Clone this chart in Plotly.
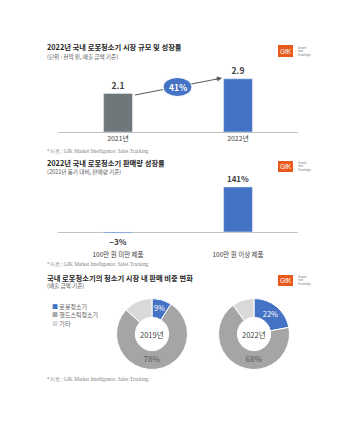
import plotly.graph_objects as go

# The page body has an 8px default margin, so the figure is drawn 8px in
# from the top-left corner; coordinates below are in page pixels.
OFF = 8
W, H = 359 - OFF, 427 - OFF


def px(x):
    return (x - OFF) / W


def py(y):
    return 1 - (y - OFF) / H


# ---------------- data ----------------
market_years = ["2021년", "2022년"]
market_values = [2.1, 2.9]
market_growth = "41%"

growth_categories = ["100만 원 미만 제품", "100만 원 이상 제품"]
growth_values = [-3, 141]

share_labels = ["로봇청소기", "핸드스틱청소기", "기타"]
share_2019 = [9, 78, 13]
share_2022 = [22, 68, 10]
share_years = ["2019년", "2022년"]

titles = [
    "2022년 국내 로봇청소기 시장 규모 및 성장률",
    "2022년 국내 로봇청소기 판매량 성장률",
    "국내 로봇청소기의 청소기 시장 내 판매 비중 변화",
]
subtitles = [
    "(단위 : 천억 원, 매출 금액 기준)",
    "(2021년 동기 대비, 판매량 기준)",
    "(매출 금액 기준)",
]
source_note = "*자료 : GfK Market Intelligence: Sales Tracking"

# ---------------- styles ----------------
FONT = "Noto Sans CJK KR"
BLUE = "#4472C4"
SLATE = "#6F777B"
GRAY = "#A5A5A5"
LIGHT = "#D9D9D9"
TXT = "#404040"
GFK = "#E8591C"

fig = go.Figure()

# Chart 1: market size
fig.add_trace(go.Bar(
    x=market_years, y=market_values,
    marker=dict(color=[SLATE, BLUE]), width=0.24,
    texttemplate="%{y}", textposition="outside", cliponaxis=False,
    textfont=dict(family=FONT, size=8.5, color=TXT, weight="bold"),
    xaxis="x", yaxis="y", showlegend=False, hoverinfo="skip",
))

# Chart 2: unit growth
fig.add_trace(go.Bar(
    x=growth_categories, y=growth_values,
    marker=dict(color=BLUE), width=0.24,
    texttemplate="%{y}%", textposition="outside", cliponaxis=False,
    textfont=dict(family=FONT, size=8, color=TXT, weight="bold"),
    xaxis="x2", yaxis="y2", showlegend=False, hoverinfo="skip",
))

# Chart 3: donuts
share_colors = [BLUE, GRAY, LIGHT]
centers = [152, 254]
CY = 334
R = 35.5
for vals, cx in zip([share_2019, share_2022], centers):
    fig.add_trace(go.Pie(
        labels=share_labels, values=vals, sort=False,
        direction="clockwise", rotation=0, hole=0.47,
        marker=dict(colors=share_colors, line=dict(color="white", width=1)),
        text=[f"{vals[0]}%", f"{vals[1]}%", ""],
        textinfo="text", textposition="inside",
        insidetextorientation="horizontal",
        insidetextfont=dict(family=FONT, size=8, color=["white", "#595959", TXT]),
        domain=dict(x=[px(cx - R), px(cx + R)], y=[py(CY + R), py(CY - R)]),
        showlegend=False, hoverinfo="skip",
    ))

annotations = []
shapes = []

# titles / subtitles / footnotes / logos
title_y = [47, 163, 278]
sub_y = [57.5, 172, 286]
foot_y = [151, 264, 379]
logo_y = [(45, 57), (161, 172), (275, 286)]
for t, s, ty, sy, fy, (l0, l1) in zip(titles, subtitles, title_y, sub_y, foot_y, logo_y):
    annotations.append(dict(
        text=f"<b>{t}</b>", x=px(45), y=py(ty), xref="paper", yref="paper",
        xanchor="left", yanchor="middle", showarrow=False,
        font=dict(family=FONT, size=7.3, color="#1F1F1F")))
    annotations.append(dict(
        text=s, x=px(45), y=py(sy), xref="paper", yref="paper",
        xanchor="left", yanchor="middle", showarrow=False,
        font=dict(family=FONT, size=5.6, color="#595959")))
    annotations.append(dict(
        text=source_note, x=px(45), y=py(fy), xref="paper", yref="paper",
        xanchor="left", yanchor="middle", showarrow=False,
        font=dict(family="Liberation Serif", size=5.2, color="#7F7F7F")))
    shapes.append(dict(type="rect", xref="paper", yref="paper",
                       x0=px(278), x1=px(293), y0=py(l1), y1=py(l0),
                       fillcolor=GFK, line=dict(width=0)))
    annotations.append(dict(
        text="GfK", x=px(285.5), y=py((l0 + l1) / 2), xref="paper", yref="paper",
        xanchor="center", yanchor="middle", showarrow=False,
        font=dict(family="Liberation Sans", size=6.5, color="white")))
    annotations.append(dict(
        text="Growth<br>from<br>Knowledge", x=px(296), y=py((l0 + l1) / 2),
        xref="paper", yref="paper", xanchor="left", yanchor="middle",
        showarrow=False, align="left",
        font=dict(family="Liberation Sans", size=2.6, color="#808080")))

# growth arrow and ellipse (chart 1)
shapes.append(dict(type="line", xref="paper", yref="paper",
                   x0=px(135), y0=py(95), x1=px(217), y1=py(79),
                   line=dict(color="#595959", width=1), layer="above"))
annotations.append(dict(
    text="", x=px(222), y=py(78), xref="paper", yref="paper",
    ax=-8, ay=1.6, axref="pixel", ayref="pixel",
    showarrow=True, arrowhead=2, arrowsize=1, arrowwidth=1,
    arrowcolor="#595959"))
shapes.append(dict(type="circle", xref="paper", yref="paper",
                   x0=px(163), x1=px(192), y0=py(96.5), y1=py(77.5),
                   fillcolor=BLUE, line=dict(color="white", width=1), layer="above"))
annotations.append(dict(
    text=f"<b>{market_growth}</b>", x=px(177.5), y=py(87), xref="paper", yref="paper",
    xanchor="center", yanchor="middle", showarrow=False,
    font=dict(family=FONT, size=8.5, color="white")))

# donut centre labels
for yr, cx in zip(share_years, centers):
    annotations.append(dict(
        text=yr, x=px(cx), y=py(CY), xref="paper", yref="paper",
        xanchor="center", yanchor="middle", showarrow=False,
        font=dict(family=FONT, size=7.5, color=TXT)))

# custom legend
for i, (lab, col) in enumerate(zip(share_labels, share_colors)):
    annotations.append(dict(
        text=f"<span style='color:{col}'>■</span> {lab}",
        x=px(50), y=py(306 + i * 8.5), xref="paper", yref="paper",
        xanchor="left", yanchor="middle", showarrow=False,
        font=dict(family=FONT, size=6, color="#595959")))

fig.update_layout(
    width=W, height=H, margin=dict(l=0, r=0, t=0, b=0),
    paper_bgcolor="white", plot_bgcolor="rgba(0,0,0,0)",
    font=dict(family=FONT, color=TXT),
    annotations=annotations, shapes=shapes,
    xaxis=dict(domain=[px(58), px(298)], range=[-0.5, 1.5], anchor="y",
               showline=True, linecolor="#BFBFBF", linewidth=1.2,
               ticks="", showgrid=False, zeroline=False, fixedrange=True,
               tickfont=dict(family=FONT, size=6.8, color=TXT)),
    yaxis=dict(domain=[py(132), py(71.5)], range=[0, 3.3], visible=False,
               fixedrange=True),
    xaxis2=dict(domain=[px(58), px(298)], range=[-0.5, 1.5], anchor="y2",
                showline=False, ticks="", showgrid=False, zeroline=False,
                ticklabelstandoff=13, fixedrange=True,
                tickfont=dict(family=FONT, size=6.5, color=TXT)),
    yaxis2=dict(domain=[py(236.8), py(180.9)], range=[-15, 160],
                showticklabels=False, showgrid=False, showline=False,
                zeroline=True, zerolinecolor="#BFBFBF", zerolinewidth=1.2,
                fixedrange=True),
)

fig.write_html("out.html")
